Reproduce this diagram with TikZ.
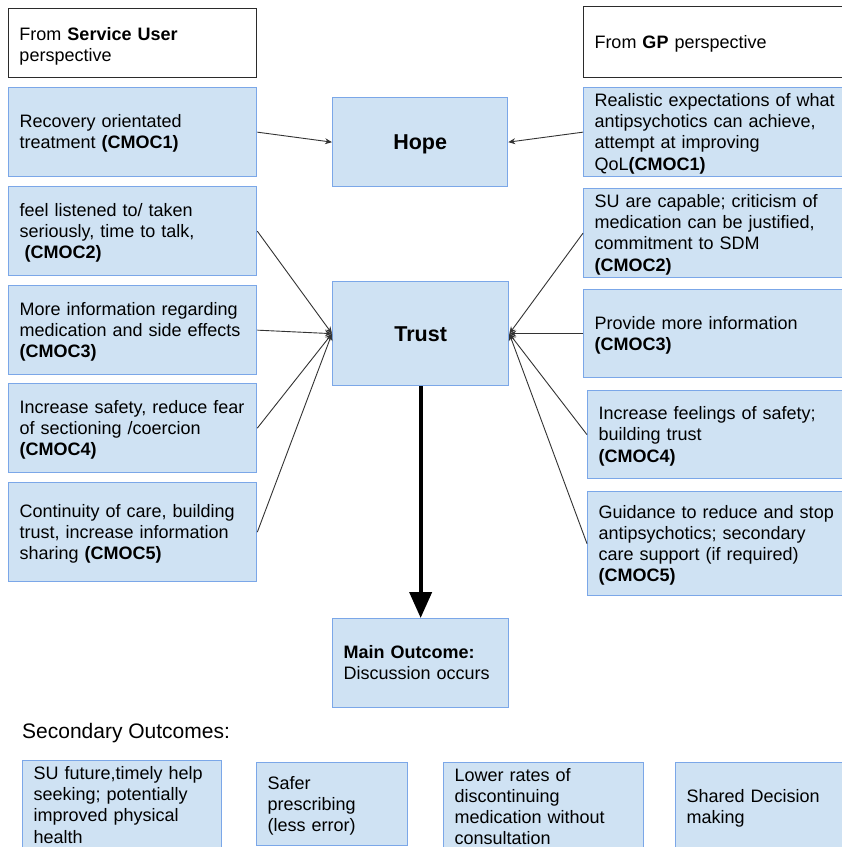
\documentclass[tikz,border=0pt]{standalone}
\usepackage{fontspec}
\setmainfont{Liberation Sans}
\usetikzlibrary{arrows.meta}
\definecolor{boxfill}{HTML}{CFE2F3}
\definecolor{boxline}{HTML}{7BA7E8}
\definecolor{headline}{HTML}{2B2B2B}
\definecolor{linkgrey}{HTML}{333333}
\newcommand{\bodyfont}{\fontsize{18pt}{21.2pt}\selectfont}
% set given lines flush left without re-breaking them, lowered slightly
\newcommand{\stack}[2][2pt]{\raisebox{-#1}[\height][\depth]{\begin{tabular}{@{}l@{}}#2\end{tabular}}}
\tikzset{
  cell/.style={draw=boxline, fill=boxfill, line width=1.3pt, inner xsep=11pt,
    inner ysep=0pt, align=left, anchor=north west, font=\bodyfont},
  header/.style={cell, draw=headline, fill=white, line width=1pt},
  hub/.style={draw=boxline, fill=boxfill, line width=1.3pt, anchor=north west,
    font=\fontsize{21.5pt}{25pt}\selectfont\bfseries},
  link/.style={draw=linkgrey, line width=0.9pt, -{Stealth[length=7pt,width=6pt]}},
  mainlink/.style={draw=black, line width=4pt, -{Triangle[length=26pt,width=22pt]}}
}
\begin{document}
\begin{tikzpicture}[x=1pt, y=-1pt]
  \clip (0,0) rectangle (842,847);
  \fill[white] (0,0) rectangle (842,847);

  % column headers
  \node[header, text width=226pt, minimum height=69pt] (suhead) at (8,8)
    {\stack[4pt]{From \textbf{Service User}\\perspective}};
  \node[header, text width=248pt, minimum height=71pt] (gphead) at (583,6)
    {\stack{From \textbf{GP} perspective}};

  % service user mechanisms
  \node[cell, text width=226pt, minimum height=89pt] (l1) at (8,87)
    {\stack{Recovery orientated\\treatment \textbf{(CMOC1)}}};
  \node[cell, text width=226pt, minimum height=89pt] (l2) at (8,186)
    {\stack{feel listened to/ taken\\seriously, time to talk,\\\hspace*{5pt}\textbf{(CMOC2)}}};
  \node[cell, text width=226pt, minimum height=89pt] (l3) at (8,285)
    {\stack{More information regarding\\medication and side effects\\\textbf{(CMOC3)}}};
  \node[cell, text width=226pt, minimum height=89pt] (l4) at (8,383)
    {\stack{Increase safety, reduce fear\\of sectioning /coercion\\\textbf{(CMOC4)}}};
  \node[cell, text width=226pt, minimum height=99pt] (l5) at (8,482)
    {\stack{Continuity of care, building\\trust, increase information\\sharing \textbf{(CMOC5)}}};

  % GP mechanisms
  \node[cell, text width=248pt, minimum height=89pt] (r1) at (583,87)
    {\stack{Realistic expectations of what\\antipsychotics can achieve,\\attempt at improving\\QoL\textbf{(CMOC1)}}};
  \node[cell, text width=248pt, minimum height=89pt] (r2) at (583,188)
    {\stack{SU are capable; criticism of\\medication can be justified,\\commitment to SDM\\\textbf{(CMOC2)}}};
  \node[cell, text width=248pt, minimum height=88pt] (r3) at (583,289)
    {\stack{Provide more information\\\textbf{(CMOC3)}}};
  \node[cell, text width=244pt, minimum height=88pt] (r4) at (587,390)
    {\stack{Increase feelings of safety;\\building trust\\\textbf{(CMOC4)}}};
  \node[cell, text width=244pt, minimum height=104pt] (r5) at (587,491)
    {\stack{Guidance to reduce and stop\\antipsychotics; secondary\\care support (if required)\\\textbf{(CMOC5)}}};

  % central outcomes
  \node[hub, minimum width=175pt, minimum height=89pt] (hope) at (332,97)
    {\raisebox{-2.5pt}[\height][\depth]{Hope}};
  \node[hub, minimum width=176pt, minimum height=104pt] (trust) at (332,281)
    {\raisebox{-1pt}[\height][\depth]{Trust}};
  \node[cell, text width=154pt, minimum height=89pt] (main) at (332,618)
    {\stack{\textbf{Main Outcome:}\\Discussion occurs}};

  % secondary outcomes
  \node[anchor=west, inner sep=0pt, font=\fontsize{21pt}{25pt}\selectfont] (sectitle) at (22,733)
    {Secondary Outcomes:};
  \node[cell, text width=177pt, minimum height=89pt] (b1) at (22,760)
    {\stack{SU future,timely help\\seeking; potentially\\improved physical\\health}};
  \node[cell, text width=129pt, minimum height=83pt] (b2) at (256,762)
    {\stack{Safer\\prescribing\\(less error)}};
  \node[cell, text width=178pt, minimum height=88pt] (b3) at (443,762)
    {\stack{Lower rates of\\discontinuing\\medication without\\consultation}};
  \node[cell, text width=150pt, minimum height=88pt] (b4) at (675,762)
    {\stack{Shared Decision\\making}};

  % connectors into Hope
  \draw[link] (l1.east) -- (hope.west);
  \draw[link] (r1.west) -- (hope.east);

  % connectors into Trust
  \foreach \n in {l2,l3,l4,l5} \draw[link] (\n.east) -- (trust.west);
  \foreach \n in {r2,r3,r4,r5} \draw[link] (\n.west) -- (trust.east);

  % Trust leads to the main outcome
  \draw[mainlink] (trust.south) -- (main.north);
\end{tikzpicture}
\end{document}
